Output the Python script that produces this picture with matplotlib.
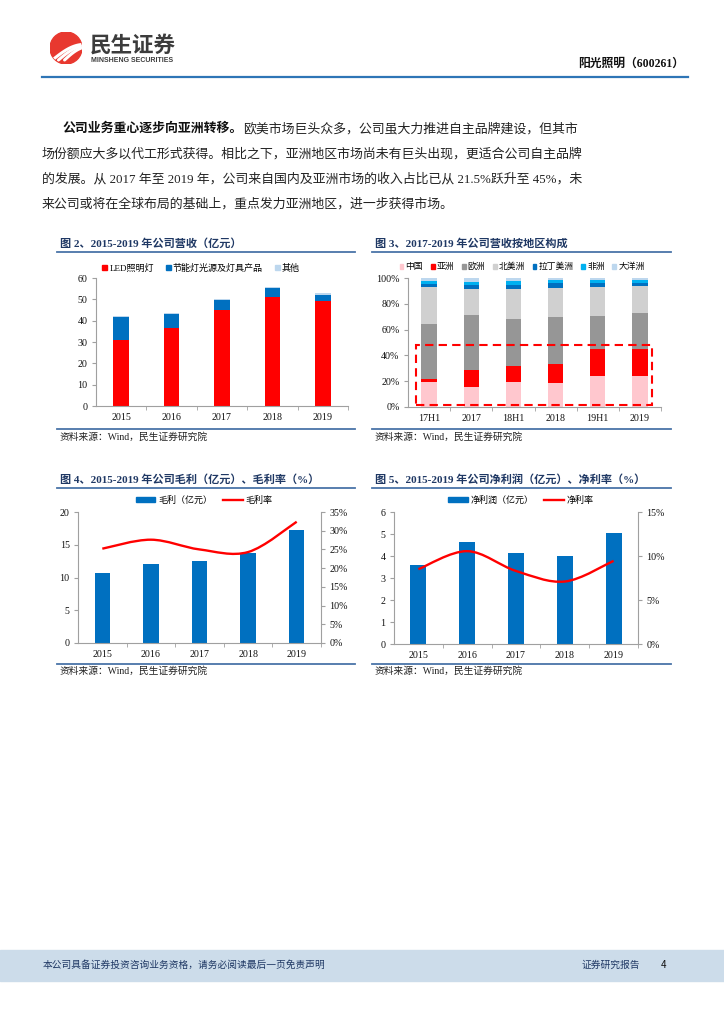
import numpy as np
import matplotlib
matplotlib.use("Agg")
import matplotlib.pyplot as plt
from matplotlib.lines import Line2D
from matplotlib.patches import Rectangle, Circle, PathPatch, Patch
from matplotlib.path import Path

# ---------------- data ----------------
years = ["2015", "2016", "2017", "2018", "2019"]

# fig 2: revenue by product (100m yuan)
rev_led = np.array([30.8, 36.7, 44.9, 51.0, 49.4])
rev_esl = np.array([11.1, 6.4, 4.8, 4.2, 2.8])
rev_other = np.array([0.4, 0.5, 0.4, 0.6, 0.8])
rev_labels = ["LED照明灯", "节能灯光源及灯具产品", "其他"]

# fig 3: revenue share by region (%)
periods = ["17H1", "2017", "18H1", "2018", "19H1", "2019"]
regions = ["中国", "亚洲", "欧洲", "北美洲", "拉丁美洲", "非洲", "大洋洲"]
share_china = [19.4, 15.8, 19.1, 18.3, 24.3, 24.0]
share_asia = [2.4, 13.1, 12.9, 15.3, 20.7, 21.0]
share_europe = [42.5, 42.2, 36.5, 36.2, 25.3, 28.1]
share_namerica = [29.0, 20.4, 23.0, 22.4, 23.0, 21.0]
share_latam = [2.0, 3.1, 3.3, 3.9, 2.6, 1.8]
share_africa = [2.1, 2.0, 3.1, 2.1, 2.3, 2.3]
share_oceania = [2.6, 3.4, 2.1, 1.8, 1.8, 1.8]
highlight_box = (-0.31, 1.5, 5.28, 48.0)  # x0, y0, x1, y1 of dashed box

# fig 4: gross profit and gross margin
gross_profit = [10.7, 12.1, 12.5, 13.7, 17.2]
gross_margin = [25.2, 27.6, 25.0, 24.3, 32.4]

# fig 5: net profit and net margin
net_profit = [3.6, 4.65, 4.15, 3.98, 5.03]
net_margin = [8.5, 10.55, 8.3, 7.1, 9.45]

# ---------------- setup ----------------
W, H = 724, 1024
SERIF = ["Liberation Serif", "Noto Sans CJK SC"]
CJK = ["Noto Sans CJK SC", "DejaVu Sans"]
plt.rcParams["font.family"] = SERIF
plt.rcParams["axes.unicode_minus"] = False

RED = "#FF0000"
BLUE = "#0070C0"
LIGHTBLUE = "#BDD7EE"
NAVY = "#1F3864"
RULE = "#4A74A8"
GRAY = "#A0A0A0"

fig = plt.figure(figsize=(W / 100, H / 100), dpi=100)


def fx(x):
    return x / W


def fy(y):
    return 1 - y / H


def px_axes(x0, y0, x1, y1):
    return fig.add_axes([fx(x0), fy(y1), (x1 - x0) / W, (y1 - y0) / H])


def hline(x0, x1, y, color, lw):
    fig.add_artist(Line2D([fx(x0), fx(x1)], [fy(y), fy(y)],
                          transform=fig.transFigure, color=color, lw=lw))


def style_axes(ax, n):
    for s in ["top", "right"]:
        ax.spines[s].set_visible(False)
    for s in ["left", "bottom"]:
        ax.spines[s].set_color(GRAY)
        ax.spines[s].set_linewidth(0.8)
    ax.set_xlim(-0.5, n - 0.5)
    ax.set_xticks(np.arange(n))
    ax.set_xticks(np.arange(0.5, n, 1.0), minor=True)
    ax.tick_params(axis="x", which="major", length=0, pad=5, labelsize=7.2,
                   labelcolor="#111111")
    ax.tick_params(axis="x", which="minor", length=3, color=GRAY)
    ax.tick_params(axis="y", length=3, color=GRAY, labelsize=7.2, pad=3,
                   labelcolor="#111111")


def style_right(axr):
    for s in ["top", "left", "bottom"]:
        axr.spines[s].set_visible(False)
    axr.spines["right"].set_color(GRAY)
    axr.spines["right"].set_linewidth(0.8)
    axr.tick_params(axis="y", length=3, color=GRAY, labelsize=7.2, pad=3,
                    labelcolor="#111111")


def smooth_path(xs, ys):
    pts = np.column_stack([xs, ys]).astype(float)
    verts = [pts[0]]
    codes = [Path.MOVETO]
    for i in range(len(pts) - 1):
        p0 = pts[max(i - 1, 0)]
        p1 = pts[i]
        p2 = pts[i + 1]
        p3 = pts[min(i + 2, len(pts) - 1)]
        verts += [p1 + (p2 - p0) / 6, p2 - (p3 - p1) / 6, p2]
        codes += [Path.CURVE4] * 3
    return Path(verts, codes)


def chart_frame(x0, x1, title, y_title, y_rule, y_src_rule, y_src):
    fig.text(fx(x0 + 3), fy(y_title), title, fontsize=8, fontweight="bold",
             color=NAVY, va="center", ha="left")
    hline(x0, x1, y_rule, RULE, 1.3)
    hline(x0, x1, y_src_rule, RULE, 1.3)
    fig.text(fx(x0 + 3), fy(y_src), "资料来源：Wind，民生证券研究院",
             fontsize=7, color="#222222", va="center", ha="left")


# ---------------- header ----------------
lax = px_axes(50, 32, 82, 64)
lax.set_xlim(-1, 1)
lax.set_ylim(-1, 1)
lax.axis("off")
circ = Circle((0, 0), 1, color="#E8382F")
lax.add_patch(circ)
tt = np.linspace(0, 1, 30)
for k in range(3):
    sx = -0.85 + 0.38 * k
    xs = sx + (0.95 - sx) * tt
    ys = -0.75 + (0.45 - 0.12 * k) * np.sin(tt * np.pi / 1.6) + 0.55 * tt
    ln, = lax.plot(xs, ys, color="white", lw=2.2, solid_capstyle="round")
    ln.set_clip_path(circ)

fig.text(fx(90), fy(45), "民生证券", fontsize=15.5, fontweight="bold",
         color="#3C3C3C", family=CJK, va="center", ha="left")
fig.text(fx(91), fy(61), "MINSHENG SECURITIES", fontsize=5, fontweight="bold",
         color="#3C3C3C", family=["Liberation Sans"], va="center", ha="left")
fig.text(fx(684), fy(64), "阳光照明（600261）", fontsize=8.5, fontweight="bold",
         color="#111111", va="center", ha="right")
hline(42, 688, 77, "#2E75B6", 1.6)

# ---------------- paragraph ----------------
PFS = 9.3
renderer = fig.canvas.get_renderer()
t_bold = fig.text(fx(63), fy(129), "公司业务重心逐步向亚洲转移。", fontsize=PFS,
                  fontweight="bold", color="#111111", va="center", ha="left")
bb = t_bold.get_window_extent(renderer=renderer)
fig.text(bb.x1 / fig.bbox.width, fy(129),
         "欧美市场巨头众多，公司虽大力推进自主品牌建设，但其市",
         fontsize=PFS, color="#222222", va="center", ha="left")
para_lines = [
    "场份额应大多以代工形式获得。相比之下，亚洲地区市场尚未有巨头出现，更适合公司自主品牌",
    "的发展。从 2017 年至 2019 年，公司来自国内及亚洲市场的收入占比已从 21.5%跃升至 45%，未",
    "来公司或将在全球布局的基础上，重点发力亚洲地区，进一步获得市场。",
]
for i, s in enumerate(para_lines):
    fig.text(fx(42), fy(154 + 25 * i), s, fontsize=PFS, color="#222222",
             va="center", ha="left")

# ---------------- fig 2 ----------------
chart_frame(57, 355, "图 2、2015-2019 年公司营收（亿元）", 243, 252, 429, 437)
ax2 = px_axes(96, 278, 348, 406)
x = np.arange(len(years))
bw = 0.31
ax2.bar(x, rev_led, bw, color=RED)
ax2.bar(x, rev_esl, bw, bottom=rev_led, color=BLUE)
ax2.bar(x, rev_other, bw, bottom=rev_led + rev_esl, color=LIGHTBLUE)
style_axes(ax2, len(years))
ax2.set_ylim(0, 60)
ax2.set_yticks(np.arange(0, 61, 10))
ax2.set_xticklabels(years)
h2 = [Patch(color=c) for c in [RED, BLUE, LIGHTBLUE]]
fig.legend(h2, rev_labels, loc="center", bbox_to_anchor=(fx(201), fy(268)),
           ncol=3, frameon=False, fontsize=6.5, handlelength=0.55,
           handleheight=0.55, handletextpad=0.25, columnspacing=1.3)

# ---------------- fig 3 ----------------
chart_frame(372, 671, "图 3、2017-2019 年公司营收按地区构成", 243, 252, 429, 437)
ax3 = px_axes(408, 278, 661, 407)
xp = np.arange(len(periods))
series3 = [share_china, share_asia, share_europe, share_namerica,
           share_latam, share_africa, share_oceania]
colors3 = ["#FFC7CE", RED, "#969696", "#D0D0D0", BLUE, "#00B0F0", LIGHTBLUE]
bottom = np.zeros(len(periods))
for vals, c in zip(series3, colors3):
    ax3.bar(xp, vals, 0.36, bottom=bottom, color=c)
    bottom += np.array(vals)
style_axes(ax3, len(periods))
ax3.set_ylim(0, 100)
ax3.set_yticks(np.arange(0, 101, 20))
ax3.set_yticklabels([f"{v}%" for v in range(0, 101, 20)])
ax3.set_xticklabels(periods)
bx0, by0, bx1, by1 = highlight_box
ax3.add_patch(Rectangle((bx0, by0), bx1 - bx0, by1 - by0, fill=False,
                        ec=RED, lw=1.5, ls=(0, (4, 2.5)), clip_on=False))
h3 = [Patch(color=c) for c in colors3]
fig.legend(h3, regions, loc="center", bbox_to_anchor=(fx(522), fy(267)),
           ncol=7, frameon=False, fontsize=6.3, handlelength=0.45,
           handleheight=0.45, handletextpad=0.25, columnspacing=0.85)

# ---------------- fig 4 ----------------
chart_frame(57, 355, "图 4、2015-2019 年公司毛利（亿元）、毛利率（%）", 479, 488, 664, 671)
ax4 = px_axes(78, 512, 321, 643)
ax4.bar(x, gross_profit, 0.32, color=BLUE)
style_axes(ax4, len(years))
ax4.set_ylim(0, 20)
ax4.set_yticks(np.arange(0, 21, 5))
ax4.set_xticklabels(years)
ax4r = ax4.twinx()
ax4r.set_ylim(0, 35)
ax4r.set_yticks(np.arange(0, 36, 5))
ax4r.set_yticklabels([f"{v}%" for v in range(0, 36, 5)])
style_right(ax4r)
ax4r.add_patch(PathPatch(smooth_path(x, gross_margin), fill=False, ec=RED, lw=1.7))
h4 = [Patch(color=BLUE), Line2D([], [], color=RED, lw=1.7)]
fig.legend(h4, ["毛利（亿元）", "毛利率"], loc="center",
           bbox_to_anchor=(fx(204), fy(500)), ncol=2, frameon=False,
           fontsize=6.5, handlelength=2.2, handleheight=0.55,
           handletextpad=0.3, columnspacing=1.2)

# ---------------- fig 5 ----------------
chart_frame(372, 671, "图 5、2015-2019 年公司净利润（亿元）、净利率（%）", 479, 488, 664, 671)
ax5 = px_axes(394, 512, 638, 644)
ax5.bar(x, net_profit, 0.33, color=BLUE)
style_axes(ax5, len(years))
ax5.set_ylim(0, 6)
ax5.set_yticks(np.arange(0, 7, 1))
ax5.set_xticklabels(years)
ax5r = ax5.twinx()
ax5r.set_ylim(0, 15)
ax5r.set_yticks(np.arange(0, 16, 5))
ax5r.set_yticklabels([f"{v}%" for v in range(0, 16, 5)])
style_right(ax5r)
ax5r.add_patch(PathPatch(smooth_path(x, net_margin), fill=False, ec=RED, lw=1.7))
h5 = [Patch(color=BLUE), Line2D([], [], color=RED, lw=1.7)]
fig.legend(h5, ["净利润（亿元）", "净利率"], loc="center",
           bbox_to_anchor=(fx(521), fy(500)), ncol=2, frameon=False,
           fontsize=6.5, handlelength=2.2, handleheight=0.55,
           handletextpad=0.3, columnspacing=1.2)

# ---------------- footer ----------------
fig.add_artist(Rectangle((0, fy(981)), 1, (981 - 950) / H, transform=fig.transFigure,
                         color="#CCDCEA", zorder=0))
fig.text(fx(43), fy(965), "本公司具备证券投资咨询业务资格，请务必阅读最后一页免责声明",
         fontsize=7, color=NAVY, family=CJK, va="center", ha="left")
fig.text(fx(582), fy(965), "证券研究报告", fontsize=7, color=NAVY, family=CJK,
         va="center", ha="left")
fig.text(fx(661), fy(965), "4", fontsize=7, color="#111111", family=CJK,
         va="center", ha="left")

fig.savefig("out.png", dpi=100)
